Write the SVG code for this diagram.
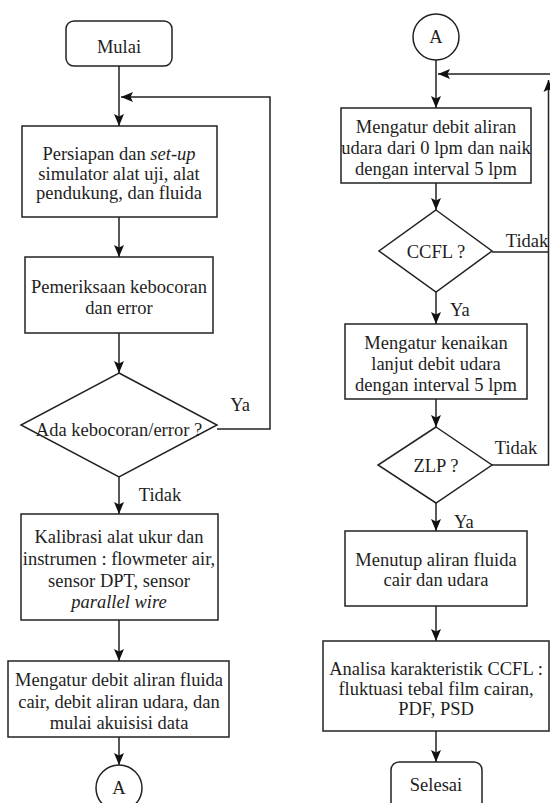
<svg xmlns="http://www.w3.org/2000/svg" width="550" height="803" viewBox="0 0 550 803">
<style>
.s{fill:#fff;stroke:#222;stroke-width:1.5}
.c{fill:none;stroke:#222;stroke-width:1.5}
text{font-family:'Liberation Serif','Times New Roman',serif;font-size:18.5px;fill:#1e1e1e;text-anchor:middle}
.l{text-anchor:start}
</style>
<defs>
<marker id="ah" markerUnits="userSpaceOnUse" markerWidth="12" markerHeight="12" viewBox="0 0 12 10" refX="12" refY="5" orient="auto">
<path d="M0,0 L12,5 L0,10 L2.5,5 Z" fill="#111"/>
</marker>
</defs>
<rect width="550" height="803" fill="#fff"/>
<g id="connectors">
<path class="c" d="M119,66 V126" marker-end="url(#ah)"/>
<path class="c" d="M217,429 H270 V97 H121" marker-end="url(#ah)"/>
<path class="c" d="M119,217 V257" marker-end="url(#ah)"/>
<path class="c" d="M119,333 V373" marker-end="url(#ah)"/>
<path class="c" d="M119,477 V514" marker-end="url(#ah)"/>
<path class="c" d="M119,620 V661" marker-end="url(#ah)"/>
<path class="c" d="M119,737 V765" marker-end="url(#ah)"/>
<path class="c" d="M436,60 V108" marker-end="url(#ah)"/>
<path class="c" d="M550,74 H438" marker-end="url(#ah)"/>
<path class="c" d="M492,252 H548.5"/>
<path class="c" d="M492,465 H548.5 V80" marker-end="url(#ah)"/>
<path class="c" d="M436,183 V210" marker-end="url(#ah)"/>
<path class="c" d="M436,292 V324" marker-end="url(#ah)"/>
<path class="c" d="M436,399 V427" marker-end="url(#ah)"/>
<path class="c" d="M436,503 V531" marker-end="url(#ah)"/>
<path class="c" d="M436,606 V641" marker-end="url(#ah)"/>
<path class="c" d="M436,731 V762" marker-end="url(#ah)"/>
<text x="240" y="411">Ya</text>
<text x="160" y="501">Tidak</text>
<text x="527" y="247">Tidak</text>
<text class="l" x="450" y="316">Ya</text>
<text x="516" y="454">Tidak</text>
<text class="l" x="454" y="528">Ya</text>
</g>
<g id="mulai">
<rect class="s" x="66" y="21" width="106" height="45" rx="8"/>
<text x="119" y="53">Mulai</text>
</g>
<g id="persiapan">
<rect class="s" x="22" y="126" width="195" height="91"/>
<text x="119" y="160">Persiapan dan <tspan font-style="italic">set-up</tspan></text>
<text x="119" y="180">simulator alat uji, alat</text>
<text x="119" y="199">pendukung, dan fluida</text>
</g>
<g id="pemeriksaan">
<rect class="s" x="25" y="257" width="188" height="76"/>
<text x="119" y="293">Pemeriksaan kebocoran</text>
<text x="119" y="314">dan error</text>
</g>
<g id="kebocoran">
<polygon class="s" points="119,373 217,425 119,477 21,425"/>
<text x="119" y="436">Ada kebocoran/error ?</text>
</g>
<g id="kalibrasi">
<rect class="s" x="21" y="514" width="197" height="106"/>
<text x="119" y="543">Kalibrasi alat ukur dan</text>
<text x="119" y="565">instrumen : flowmeter air,</text>
<text x="119" y="587">sensor DPT, sensor</text>
<text x="119" y="608" font-style="italic">parallel wire</text>
</g>
<g id="mengatur1">
<rect class="s" x="8" y="661" width="221" height="76"/>
<text x="119" y="686">Mengatur debit aliran fluida</text>
<text x="119" y="708">cair, debit aliran udara, dan</text>
<text x="119" y="729">mulai akuisisi data</text>
</g>
<g id="a1">
<circle class="s" cx="119" cy="788" r="23"/>
<text x="119" y="794">A</text>
</g>
<g id="a2">
<circle class="s" cx="436" cy="37" r="23"/>
<text x="436" y="43">A</text>
</g>
<g id="mengatur2">
<rect class="s" x="341" y="108" width="190" height="75"/>
<text x="436" y="133">Mengatur debit aliran</text>
<text x="436" y="154">udara dari 0 lpm dan naik</text>
<text x="436" y="175">dengan interval 5 lpm</text>
</g>
<g id="ccfl">
<polygon class="s" points="436,210 492,251 436,292 379,251"/>
<text x="436" y="258">CCFL ?</text>
</g>
<g id="mengatur3">
<rect class="s" x="345" y="324" width="182" height="75"/>
<text x="436" y="349">Mengatur kenaikan</text>
<text x="436" y="370">lanjut debit udara</text>
<text x="436" y="391">dengan interval 5 lpm</text>
</g>
<g id="zlp">
<polygon class="s" points="436,427 492,465 436,503 378,465"/>
<text x="436" y="472">ZLP ?</text>
</g>
<g id="menutup">
<rect class="s" x="345" y="531" width="182" height="75"/>
<text x="436" y="566">Menutup aliran fluida</text>
<text x="436" y="586">cair dan udara</text>
</g>
<g id="analisa">
<rect class="s" x="323" y="641" width="226" height="90"/>
<text x="436" y="675">Analisa karakteristik CCFL :</text>
<text x="436" y="695">fluktuasi tebal film cairan,</text>
<text x="436" y="715">PDF, PSD</text>
</g>
<g id="selesai">
<rect class="s" x="391" y="762" width="91" height="50" rx="8"/>
<text x="436" y="791">Selesai</text>
</g>
</svg>
